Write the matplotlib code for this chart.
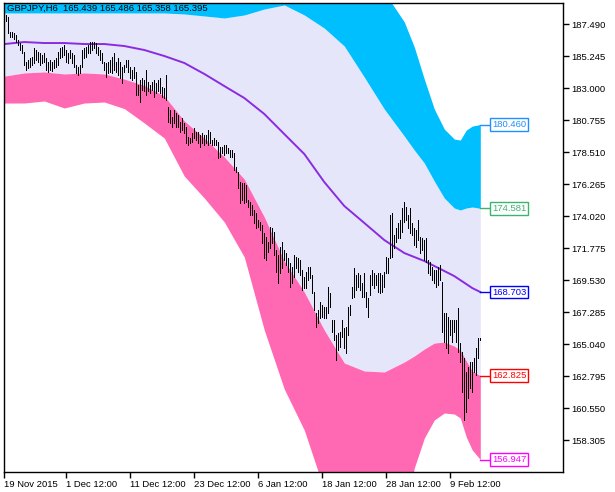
import matplotlib
matplotlib.use("Agg")
import matplotlib.pyplot as plt
import matplotlib.transforms as mtransforms
import numpy as np

# GBPJPY H6 bars (high / low)
bar_high = [
    188.15, 188.15, 188.03, 186.98, 186.93, 186.86, 186.74, 186.39, 186.16, 186.04,
    185.57, 184.87, 184.99, 185.11, 185.22, 185.81, 185.69, 185.57, 185.46, 185.34,
    185.46, 185.11, 184.87, 184.99, 184.87, 184.99, 185.11, 185.57, 185.81, 185.92,
    186.04, 185.69, 185.46, 185.69, 185.46, 185.34, 184.64, 184.52, 184.64, 185.69,
    185.81, 185.92, 186.04, 186.28, 186.28, 186.28, 186.16, 185.92, 185.69, 185.46,
    184.87, 184.75, 184.87, 184.99, 185.22, 185.46, 184.87, 185.11, 184.87, 184.52,
    184.64,
    184.99, 184.99, 184.52, 184.29, 184.52, 184.17, 183.23, 183.58, 183.70, 183.58,
    184.29, 183.47, 183.23, 183.47, 183.58, 183.35, 183.58, 183.70, 183.12, 183.00,
    183.94, 181.71, 181.48, 181.01, 181.48, 181.24, 181.13, 180.66, 180.89, 180.54,
    180.31, 179.61, 179.49, 179.84, 180.19, 179.96, 179.96, 179.72, 179.84, 179.72,
    179.72, 180.07, 179.96, 179.37, 179.49, 179.37, 179.25, 178.90, 178.90, 179.02,
    179.02, 178.79, 178.67, 178.67, 178.44, 177.50, 177.15, 176.45, 176.33, 176.33,
    176.21, 175.16, 175.04, 174.81, 174.46, 174.22, 173.76, 173.64, 173.40, 172.82,
    172.59, 172.24, 173.29, 173.17, 172.94, 171.65, 171.30, 171.88, 172.24, 171.65,
    171.42, 171.07, 170.71, 170.48, 171.30, 171.18, 171.07, 170.95, 170.25, 169.78,
    170.13, 170.48, 170.48, 169.90, 168.73, 167.20, 167.44, 168.02, 167.79, 167.67,
    167.67, 169.08, 168.61, 166.74, 166.74, 165.68, 165.80, 165.92, 166.74, 166.15,
    166.27, 167.67, 167.79, 169.08, 170.36, 169.90, 170.01, 169.90, 169.31, 170.01,
    168.72, 168.26, 169.89, 170.25, 170.01, 169.89, 170.01, 170.01, 169.89, 170.13,
    171.18, 171.06, 174.11, 174.22, 172.70, 173.17, 173.52, 173.76, 174.57, 175.04,
    174.69, 174.11, 174.57, 173.52, 173.17, 173.05, 173.76, 172.59, 172.47, 172.35,
    172.47, 170.95, 170.83, 170.48, 170.25, 170.25, 170.48, 170.60, 169.43, 167.20,
    167.20, 166.97, 166.74, 166.74, 166.74, 166.74, 167.55, 165.10, 164.51, 164.04,
    163.11, 163.46, 163.81, 163.81, 164.04, 164.75, 165.45, 165.486,
]
bar_low = [
    187.80, 187.75, 186.86, 186.63, 186.58, 186.44, 186.28, 186.04, 185.69, 185.50,
    184.64, 184.29, 184.40, 184.52, 184.64, 184.75, 184.99, 184.87, 184.64, 184.75,
    184.87, 184.29, 184.17, 184.29, 184.24, 184.40, 184.52, 184.64, 185.11, 185.22,
    185.34, 184.87, 184.75, 185.11, 184.75, 184.52, 184.05, 183.94, 184.05, 184.52,
    185.11, 185.22, 185.46, 185.46, 185.69, 185.81, 185.46, 185.34, 184.99, 184.75,
    184.29, 183.82, 184.05, 184.17, 184.05, 184.29, 184.17, 183.94, 183.70, 183.35,
    184.17,
    184.52, 184.17, 183.70, 183.58, 183.70, 182.53, 182.53, 182.06, 182.88, 182.79,
    182.53, 182.79, 182.65, 182.88, 182.41, 182.65, 182.79, 182.65, 182.41, 182.30,
    182.18, 180.66, 180.54, 180.31, 180.54, 180.31, 180.31, 179.96, 180.07, 179.84,
    179.14, 179.02, 179.14, 179.25, 179.49, 179.37, 179.14, 178.90, 179.14, 179.02,
    179.14, 179.02, 179.14, 179.02, 179.02, 179.02, 178.09, 178.20, 178.44, 178.32,
    178.44, 178.44, 178.20, 178.20, 177.27, 177.15, 175.98, 174.93, 175.16, 174.93,
    175.04, 174.69, 174.11, 174.11, 173.52, 173.17, 173.29, 173.05, 172.12, 171.07,
    170.95, 171.53, 171.77, 172.12, 171.30, 170.13, 169.31, 170.01, 170.36, 170.95,
    170.60, 170.13, 169.08, 169.31, 169.78, 170.36, 170.13, 169.90, 168.84, 168.96,
    168.96, 169.54, 169.66, 168.61, 167.44, 166.27, 166.50, 166.85, 166.97, 166.85,
    166.85, 167.20, 167.67, 165.92, 165.33, 163.93, 164.63, 164.86, 165.57, 164.75,
    164.40, 165.68, 167.09, 168.26, 168.37, 168.84, 169.08, 168.84, 168.37, 168.37,
    167.67, 166.97, 168.49, 169.19, 168.96, 169.19, 168.72, 168.61, 168.72, 169.08,
    170.01, 170.01, 171.06, 171.18, 171.77, 172.23, 172.47, 172.47, 172.94, 173.64,
    173.76, 173.17, 172.82, 172.70, 172.00, 171.88, 172.35, 171.42, 171.65, 170.95,
    170.83, 170.01, 169.89, 169.54, 169.31, 169.08, 169.19, 169.54, 165.92, 165.21,
    164.75, 164.40, 165.68, 165.21, 165.92, 165.21, 164.51, 163.81, 161.70, 159.72,
    160.30, 161.24, 161.94, 161.70, 163.11, 162.87, 164.04, 165.358,
]

# indicator bands, sampled at these bar numbers
band_idx = [0, 10, 20, 30, 40, 50, 60, 70, 80, 90, 100, 110, 120, 130, 140,
            150, 160, 170, 180, 190, 200, 205, 210, 215, 220, 225, 228, 231, 234, 238]
upper_outer = [191.31, 191.31, 191.38, 191.45, 191.52, 191.59, 191.66, 191.73, 191.80, 191.87,
               192.01, 192.15, 192.36, 192.57, 192.71, 192.57, 192.15, 191.45, 190.60, 189.76,
               187.66, 185.90, 183.65, 181.55, 180.14, 179.44, 179.37, 180.07, 180.35, 180.460]
upper_inner = [188.29, 188.29, 188.29, 188.29, 188.29, 188.29, 188.29, 188.29, 188.29, 188.22,
               188.08, 187.94, 188.15, 188.57, 188.85, 188.15, 187.23, 185.97, 183.79, 181.55,
               179.65, 178.67, 177.76, 176.49, 175.30, 174.60, 174.46, 174.60, 174.67, 174.581]
middle = [186.11, 186.25, 186.18, 186.18, 186.11, 186.11, 185.97, 185.69, 185.27, 184.78,
          184.01, 183.16, 182.32, 181.20, 179.79, 178.39, 176.42, 174.74, 173.55, 172.35,
          171.44, 171.16, 170.88, 170.53, 170.18, 169.82, 169.54, 169.26, 168.98, 168.703]
lower_inner = [183.86, 184.08, 184.15, 184.01, 184.08, 184.01, 183.65, 183.20, 182.46, 180.71,
               179.51, 178.18, 176.63, 173.97, 170.88, 168.70, 166.03, 163.72, 163.16, 163.09,
               163.79, 164.21, 164.70, 165.12, 165.19, 164.91, 164.63, 163.86, 163.16, 162.825]
lower_outer = [181.97, 181.97, 182.11, 181.62, 181.97, 182.04, 181.58, 180.57, 179.51, 176.84,
               175.30, 173.62, 171.16, 166.03, 161.89, 159.01, 154.80, 152.70, 150.94, 150.59,
               152.70, 156.35, 158.45, 159.72, 160.21, 160.14, 159.86, 158.52, 157.61, 156.947]

tick_idx = [0, 31, 63, 95, 127, 159, 191, 223]
tick_labels = ["19 Nov 2015", "1 Dec 12:00", "11 Dec 12:00", "23 Dec 12:00",
               "6 Jan 12:00", "18 Jan 12:00", "28 Jan 12:00", "9 Feb 12:00"]
price_ticks = [158.305, 160.550, 162.795, 165.040, 167.285, 169.530, 171.775,
               174.020, 176.265, 178.510, 180.755, 183.000, 185.245, 187.490]
title = "GBPJPY,H6  165.439 165.486 165.358 165.395"

plt.rcParams['font.family'] = ['Liberation Sans', 'DejaVu Sans']
fs = 6.8

fig = plt.figure(figsize=(6.15, 4.92), dpi=100)
ax = fig.add_axes([4 / 615, 1 - 472 / 492, 559 / 615, 469 / 492])

ax.fill_between(band_idx, upper_inner, lower_inner, color='#E6E6FA', lw=0)
ax.fill_between(band_idx, upper_outer, upper_inner, color='#00BFFF', lw=0)
ax.fill_between(band_idx, lower_inner, lower_outer, color='#FF69B4', lw=0)
ax.plot(band_idx, middle, color='#8A2BE2', lw=1.4)

# bars, 1 px wide
x = np.arange(len(bar_high))
ax.vlines(x, bar_low, bar_high, color='black', lw=0.72, antialiased=False)

# end-of-band price labels
last = band_idx[-1]
for vals, col in [(upper_outer, '#1E90FF'), (upper_inner, '#3CB371'),
                  (middle, '#0000FF'), (lower_inner, '#FF0000'),
                  (lower_outer, '#FF00FF')]:
    v = vals[-1]
    ax.plot([last, last + 5], [v, v], color=col, lw=1)
    ax.text(last + 5.9, v, f"{v:.3f}", color=col, fontsize=fs, va='center', ha='left',
            bbox=dict(boxstyle='square,pad=0.2', fc='white', ec=col, lw=1))

ax.text(0.006, 0.988, title, transform=ax.transAxes, fontsize=fs,
        va='center', ha='left', color='black')

ax.set_xlim(-0.15, 279.35)
ax.set_ylim(156.07, 188.99)

ax.yaxis.tick_right()
ax.set_yticks(price_ticks)
ax.set_yticklabels([f"{p:.3f}" for p in price_ticks])
ax.set_xticks(tick_idx)
ax.set_xticklabels(tick_labels, ha='left')
offset = mtransforms.ScaledTranslation(1 / 100, 0, fig.dpi_scale_trans)
for lab in ax.get_xticklabels():
    lab.set_transform(lab.get_transform() + offset)
ax.tick_params(axis='both', direction='out', length=4, width=1, labelsize=fs,
               colors='black', pad=2)
for sp in ax.spines.values():
    sp.set_linewidth(1)
    sp.set_color('black')

fig.savefig("out.png", dpi=100)
